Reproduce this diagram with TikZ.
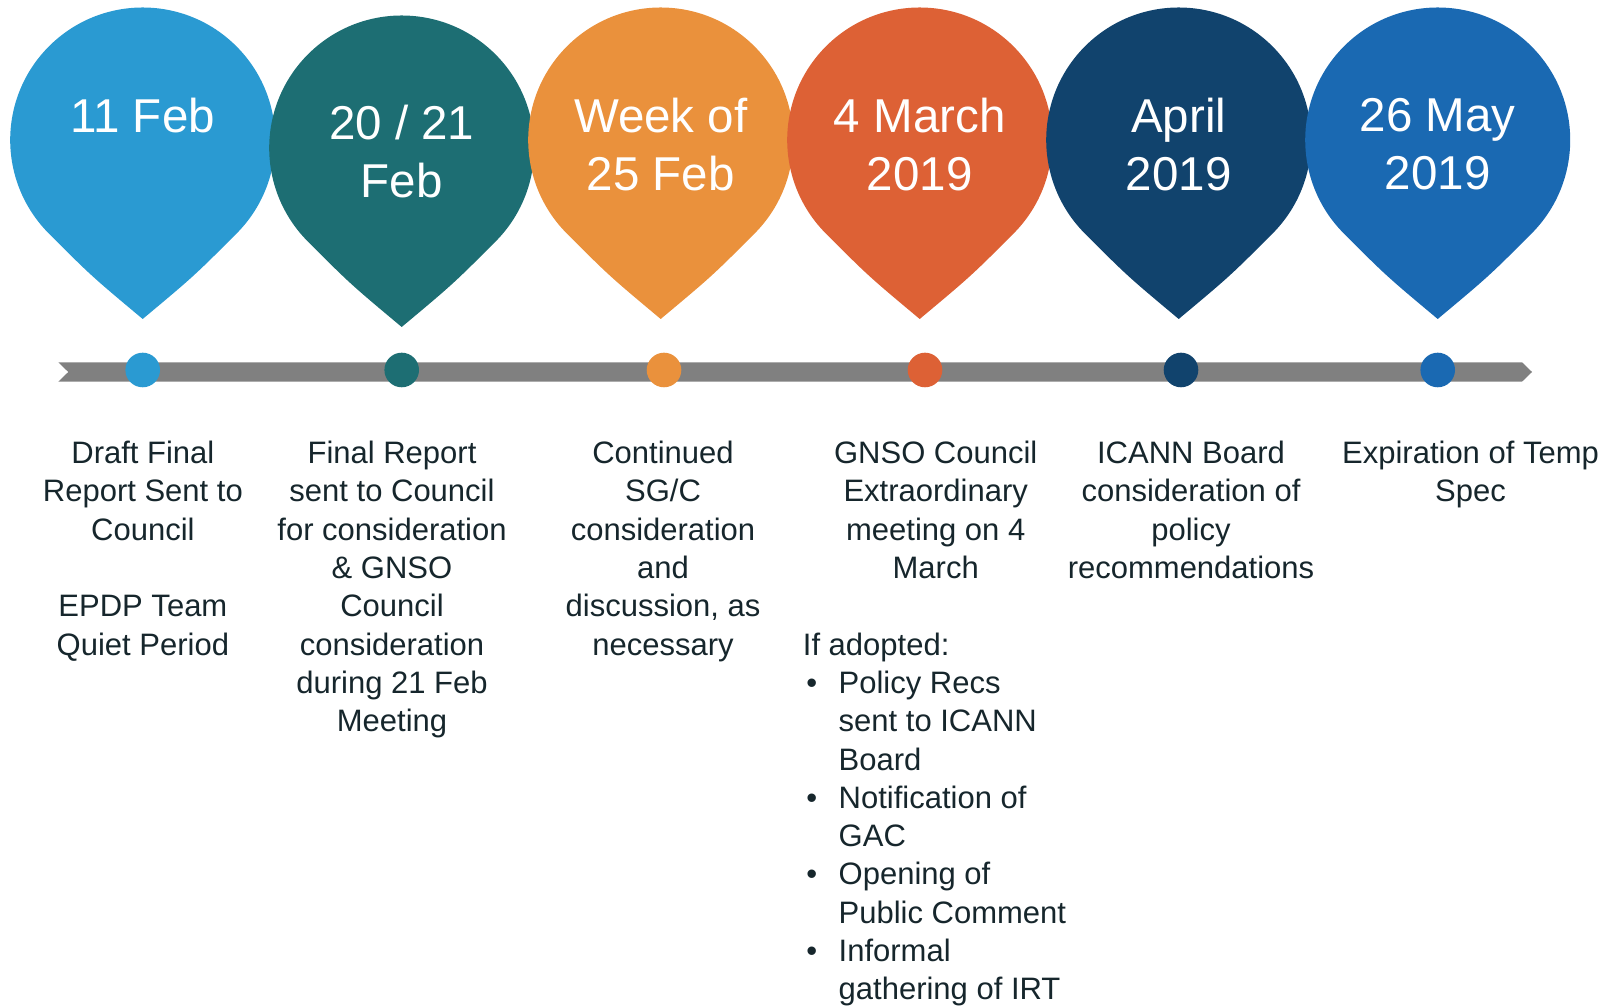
\documentclass[tikz,border=0pt]{standalone}
\usepackage{fontspec}
\setmainfont{Liberation Sans}
\usepackage{tikz}
\usetikzlibrary{calc}
\definecolor{PinSky}{RGB}{42,154,210}
\definecolor{PinTeal}{RGB}{29,110,115}
\definecolor{PinAmber}{RGB}{234,145,60}
\definecolor{PinRust}{RGB}{221,97,53}
\definecolor{PinNavy}{RGB}{17,67,109}
\definecolor{PinBlue}{RGB}{26,105,178}
\definecolor{BarGray}{RGB}{128,128,128}
\definecolor{NoteInk}{RGB}{22,38,44}
\tikzset{
  datelbl/.style={align=center, text=white, inner sep=0pt, anchor=north,
    font=\fontsize{23.75}{28.75}\selectfont},
  note/.style={align=center, text=NoteInk, inner sep=0pt, anchor=north,
    font=\fontsize{15.5}{19.15}\selectfont},
  dot/.style={circle, inner sep=0pt, minimum size=17.3pt}
}
% drop-shaped marker: #1 centre, #2 colour
\newcommand{\pinshape}[2]{%
  \fill[#2] ($(#1)+(0,-179)$) .. controls ($(#1)+(51.3,-136.1)$) .. ($(#1)+(-45:66.25pt)$)
    arc[start angle=-45, end angle=225, radius=66.25pt]
    .. controls ($(#1)+(-51.3,-136.1)$) .. ($(#1)+(0,-179)$) -- cycle;}
\newcommand{\blt}{\makebox[17.9pt][l]{\hspace{1.75pt}\textbullet}}
\newcommand{\bsp}{\hspace*{17.9pt}}

\begin{document}
\begin{tikzpicture}[x=0.5pt, y=0.5pt]
  \useasboundingbox (0,0) rectangle (1609,1006);

  % markers
  \coordinate (p1) at (142.7,866);
  \coordinate (p2) at (401.7,858);
  \coordinate (p3) at (660.7,866);
  \coordinate (p4) at (919.7,866);
  \coordinate (p5) at (1178.7,866);
  \coordinate (p6) at (1437.7,866);
  \pinshape{p1}{PinSky}
  \pinshape{p2}{PinTeal}
  \pinshape{p3}{PinAmber}
  \pinshape{p4}{PinRust}
  \pinshape{p5}{PinNavy}
  \pinshape{p6}{PinBlue}

  \node[datelbl] (d1) at (142.7,908) {11 Feb};
  \node[datelbl] (d2) at (401.7,901) {20 / 21\\Feb};
  \node[datelbl] (d3) at (660.7,908) {Week of\\25 Feb};
  \node[datelbl] (d4) at (919.7,908) {4 March\\2019};
  \node[datelbl] (d5) at (1178.7,908) {April\\2019};
  \node[datelbl] (d6) at (1437.7,908) {26 May\\2019};

  % timeline bar
  \fill[BarGray] (58.3,643.7) -- (1522,643.7) -- (1532,634) -- (1522,624.3)
    -- (58.3,624.3) -- (68.3,634) -- cycle;
  \node[dot, fill=PinSky] (t1) at (142.7,636) {};
  \node[dot, fill=PinTeal] (t2) at (401.7,636) {};
  \node[dot, fill=PinAmber] (t3) at (664,636) {};
  \node[dot, fill=PinRust] (t4) at (925,636) {};
  \node[dot, fill=PinNavy] (t5) at (1181,636) {};
  \node[dot, fill=PinBlue] (t6) at (1437.7,636) {};

  % notes under the bar
  \node[note] (n1) at (142.9,565.2) {Draft Final\\Report Sent to\\Council\\[19.15pt]EPDP Team\\Quiet Period};
  \node[note] (n2) at (392,565.2) {Final Report\\sent to Council\\for consideration\\\& GNSO\\Council\\consideration\\during 21 Feb\\Meeting};
  \node[note] (n3) at (663,565.2) {Continued\\SG/C\\consideration\\and\\discussion, as\\necessary};
  \node[note] (n4) at (935.7,565.2) {GNSO Council\\Extraordinary\\meeting on 4\\March};
  \node[note, align=left, anchor=north west] (n4b) at (802.5,373.7) {If adopted:\\
    \blt Policy Recs\\\bsp sent to ICANN\\\bsp Board\\
    \blt Notification of\\\bsp GAC\\
    \blt Opening of\\\bsp Public Comment\\
    \blt Informal\\\bsp gathering of IRT};
  \node[note] (n5) at (1191,565.2) {ICANN Board\\consideration of\\policy\\recommendations};
  \node[note] (n6) at (1470.5,565.2) {Expiration of Temp\\Spec};
\end{tikzpicture}
\end{document}
